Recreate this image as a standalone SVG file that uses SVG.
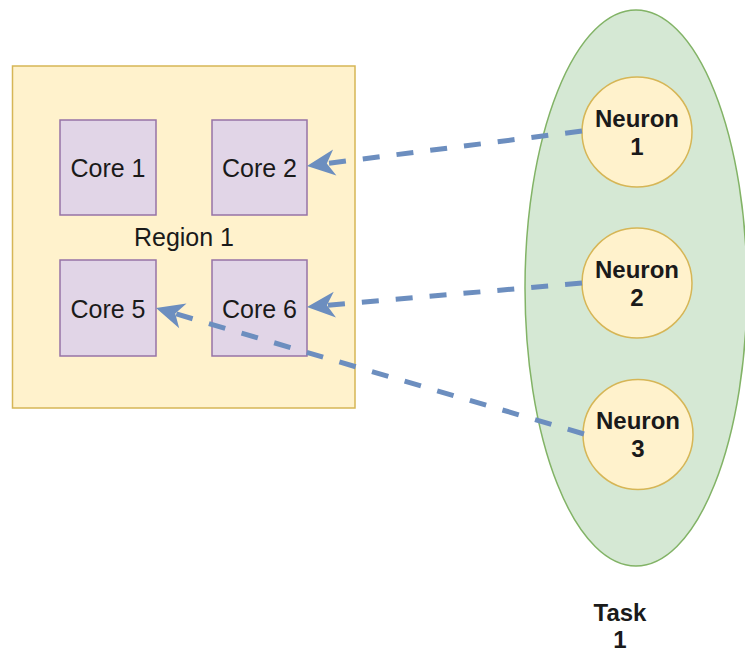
<svg xmlns="http://www.w3.org/2000/svg" width="745" height="652" viewBox="0 0 745 652">
  <style>
    .region { fill: #fff2cc; stroke: #d6b656; stroke-width: 1.5; }
    .core { fill: #e1d5e7; stroke: #9673a6; stroke-width: 1.5; }
    .task { fill: #d5e8d4; stroke: #82b366; stroke-width: 1.5; }
    .neuron { fill: #fff2cc; stroke: #d6b656; stroke-width: 1.5; }
    .label { font-family: "Liberation Sans", Arial, sans-serif; font-size: 25px; fill: #1a1a1a; text-anchor: middle; }
    .bold { font-family: "Liberation Sans", Arial, sans-serif; font-size: 24px; font-weight: bold; fill: #1a1a1a; text-anchor: middle; }
    .edge { fill: none; stroke: #6c8ebf; stroke-width: 5; stroke-dasharray: 17 17; }
  </style>
  <defs>
    <marker id="arrow" viewBox="-30 -15 32 30" refX="-20" refY="0" markerWidth="32" markerHeight="30" markerUnits="userSpaceOnUse" orient="auto">
      <path d="M0,0 L-28,-13 L-20,0 L-28,13 Z" fill="#6c8ebf"/>
    </marker>
  </defs>

  <g id="region1">
    <rect class="region" x="12.5" y="66" width="342.5" height="342"/>
    <text class="label" x="184" y="246">Region 1</text>
  </g>

  <g id="core1">
    <rect class="core" x="60" y="120" width="96" height="95"/>
    <text class="label" x="108" y="177">Core 1</text>
  </g>
  <g id="core2">
    <rect class="core" x="212" y="120" width="95" height="95"/>
    <text class="label" x="259.5" y="177">Core 2</text>
  </g>
  <g id="core5">
    <rect class="core" x="60" y="260" width="96" height="96"/>
    <text class="label" x="108" y="317.5">Core 5</text>
  </g>
  <g id="core6">
    <rect class="core" x="212" y="260" width="95" height="96"/>
    <text class="label" x="259.5" y="317.5">Core 6</text>
  </g>

  <g id="task1">
    <ellipse class="task" cx="636" cy="288" rx="111" ry="278"/>
    <text class="bold" x="620" y="621">Task</text>
    <text class="bold" x="620" y="648">1</text>
  </g>

  <g id="neuron1">
    <circle class="neuron" cx="637" cy="132" r="55"/>
    <text class="bold" x="637" y="126.5">Neuron</text>
    <text class="bold" x="637" y="155">1</text>
  </g>
  <g id="neuron2">
    <circle class="neuron" cx="637" cy="283" r="55"/>
    <text class="bold" x="637" y="277.5">Neuron</text>
    <text class="bold" x="637" y="306">2</text>
  </g>
  <g id="neuron3">
    <circle class="neuron" cx="638" cy="434.5" r="55"/>
    <text class="bold" x="638" y="429">Neuron</text>
    <text class="bold" x="638" y="457">3</text>
  </g>

  <g id="connectors">
    <path class="edge" d="M582,131 L326.8,163.5" marker-end="url(#arrow)"/>
    <path class="edge" d="M582,283 L326.9,305.3" marker-end="url(#arrow)"/>
    <path class="edge" d="M584,434 L175.2,313.6" marker-end="url(#arrow)"/>
  </g>
</svg>
